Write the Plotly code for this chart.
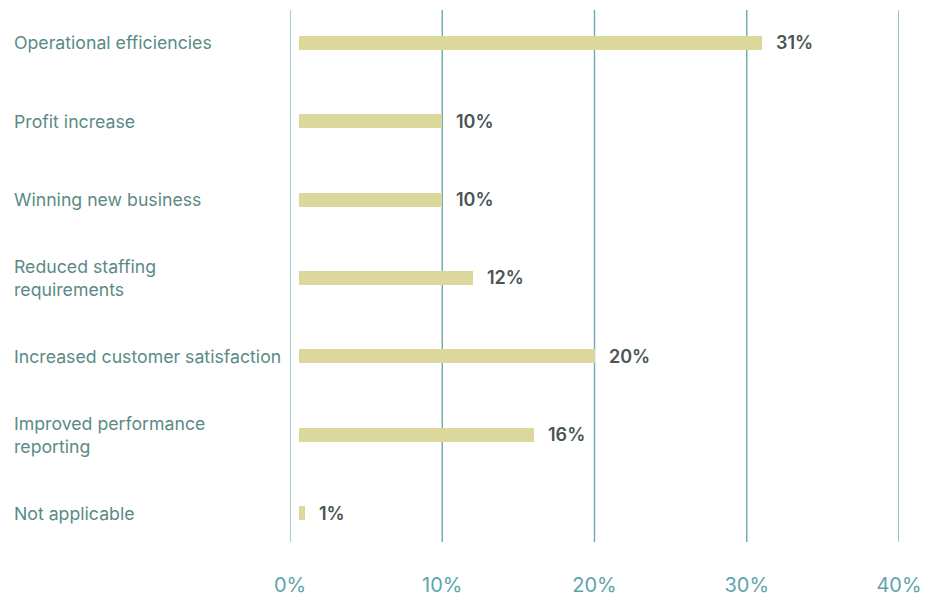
import plotly.graph_objects as go

# Survey results: benefits reported
categories = [
    "Operational efficiencies",
    "Profit increase",
    "Winning new business",
    "Reduced staffing<br>requirements",
    "Increased customer satisfaction",
    "Improved performance<br>reporting",
    "Not applicable",
]
values = [31, 10, 10, 12, 20, 16, 1]
value_labels = ["31%", "10%", "10%", "12%", "20%", "16%", "1%"]
tick_vals = [0, 10, 20, 30, 40]
tick_text = ["0%", "10%", "20%", "30%", "40%"]

BAR_COLOR = "#dcd89b"
GRID_COLOR = "#6ea9ae"
ZERO_COLOR = "#84b8be"
CAT_COLOR = "#5b8a86"
TICK_COLOR = "#5ea5ab"
VALUE_COLOR = "#4a5553"
FONT = "Inter, Open Sans, sans-serif"

# bars sit slightly detached from the zero line
bar_base = 0.6

fig = go.Figure()
fig.add_trace(go.Bar(
    y=categories,
    x=[v - bar_base for v in values],
    base=[bar_base] * len(values),
    orientation="h",
    marker=dict(color=BAR_COLOR, line=dict(width=0)),
    width=0.18,
    hoverinfo="skip",
))

# vertical grid lines, including both ends of the axis
for tv in tick_vals:
    fig.add_shape(
        type="line", xref="x", yref="paper",
        x0=tv, x1=tv, y0=0, y1=1,
        line=dict(color=ZERO_COLOR if tv == 0 else GRID_COLOR, width=1.4),
        layer="below",
    )

# value labels to the right of each bar
for cat, v, lab in zip(categories, values, value_labels):
    fig.add_annotation(
        x=v, y=cat, xref="x", yref="y",
        text=lab, showarrow=False,
        xanchor="left", xshift=12,
        font=dict(family=FONT, size=18, color=VALUE_COLOR, weight=600),
    )

# category labels, left aligned at the page edge
for cat in categories:
    fig.add_annotation(
        x=-0.4565, y=cat, xref="paper", yref="y",
        text=cat, showarrow=False,
        xanchor="left", align="left",
        font=dict(family=FONT, size=17.7, color=CAT_COLOR),
    )

fig.update_layout(
    width=936, height=596,
    margin=dict(l=290, r=37, t=10, b=54),
    plot_bgcolor="white", paper_bgcolor="white",
    showlegend=False,
    bargap=0,
    font=dict(family=FONT),
    xaxis=dict(
        range=[0, 40],
        tickvals=tick_vals, ticktext=tick_text,
        showgrid=False,
        zeroline=False, showline=False,
        ticks="outside", ticklen=25, tickcolor="rgba(0,0,0,0)",
        tickfont=dict(family=FONT, size=20, color=TICK_COLOR),
        automargin=False,
        fixedrange=True,
    ),
    yaxis=dict(
        range=[6.37, -0.42],
        showticklabels=False, showgrid=False, zeroline=False,
        automargin=False,
        fixedrange=True,
    ),
)

fig.write_html("out.html")
